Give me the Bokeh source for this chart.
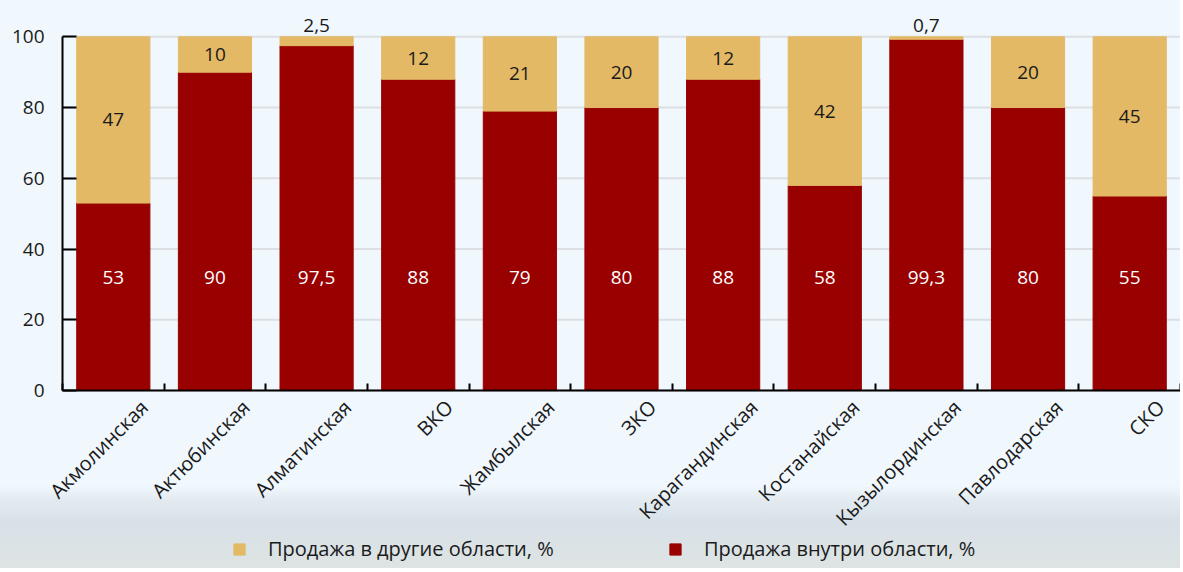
import math
from bokeh.plotting import figure
from bokeh.models import (ColumnDataSource, Range1d, FixedTicker, Legend, LegendItem,
                          LabelSet)
from bokeh.core.properties import value
from bokeh.embed import file_html
from bokeh.resources import INLINE

regions = ["Акмолинская", "Актюбинская", "Алматинская", "ВКО", "Жамбылская", "ЗКО",
           "Карагандинская", "Костанайская", "Кызылординская", "Павлодарская", "СКО"]
inside = [53, 90, 97.5, 88, 79, 80, 88, 58, 99.3, 80, 55]
other = [47, 10, 2.5, 12, 21, 20, 12, 42, 0.7, 20, 45]
inside_labels = ["53", "90", "97,5", "88", "79", "80", "88", "58", "99,3", "80", "55"]
other_labels = ["47", "10", "2,5", "12", "21", "20", "12", "42", "0,7", "20", "45"]
y_ticks = [0, 20, 40, 60, 80, 100]

RED = "#990000"
GOLD = "#e4b966"
FONT = "Open Sans"
TXT = "#1a1a1a"

n = len(regions)
x = list(range(n))
top_total = [a + b for a, b in zip(inside, other)]
small = [b < 5 for b in other]
other_y = [t if s else a + b / 2 for a, b, t, s in zip(inside, other, top_total, small)]
other_off = [5 if s else 0 for s in small]
other_base = ["bottom" if s else "middle" for s in small]

src = ColumnDataSource(dict(
    x=x, inside=inside, other=other, total=top_total,
    ilab=inside_labels, olab=other_labels, cat=regions,
    iy=[32] * n, oy=other_y, ooff=other_off, obase=other_base, zero=[0] * n,
))

# frame covers the whole canvas; axes are pinned at x=-0.5 / y=0
X0 = -0.5 - 62 / ((1180 - 62) / n)
p = figure(width=1180, height=568, output_backend="svg", toolbar_location=None,
           x_range=Range1d(X0, n - 0.5), y_range=Range1d(-50.3, 108),
           min_border_left=0, min_border_right=0, min_border_top=8, min_border_bottom=0)
p.styles = {"background": "linear-gradient(to bottom, #f0f7fd 0%, #f0f7fd 85.5%, #e3ebf1 88%, #d8e1e8 92%, #dee4e3 100%)"}
p.background_fill_alpha = 0
p.border_fill_alpha = 0
p.outline_line_color = None
p.xgrid.grid_line_color = None
p.ygrid.grid_line_color = None

# horizontal gridlines, from the y axis to the right edge
p.segment(x0=-0.5, x1=n - 0.5, y0=y_ticks, y1=y_ticks, line_color="#dcdfe3",
          line_width=2, level="underlay")

r_in = p.vbar(x="x", bottom=0, top="inside", width=0.72, color=RED, source=src)
r_out = p.vbar(x="x", bottom="inside", top="total", width=0.72, color=GOLD, source=src)

p.add_layout(LabelSet(x="x", y="iy", text="ilab", source=src, text_color="white",
                      text_font=value(FONT), text_font_size="19px", text_align="center",
                      text_baseline="middle"))
p.add_layout(LabelSet(x="x", y="oy", text="olab", source=src, text_color=TXT,
                      y_offset="ooff", text_font=value(FONT), text_font_size="19px",
                      text_align="center", text_baseline="obase"))
# category labels, rotated 45°
p.add_layout(LabelSet(x="x", y="zero", text="cat", source=src, text_color=TXT,
                      angle=math.pi / 4, x_offset=31, y_offset=-13,
                      text_font=value(FONT), text_font_size="20px",
                      text_align="right", text_baseline="middle"))

# axes
p.xaxis.fixed_location = 0
p.xaxis.bounds = (-0.5, n - 0.5)
p.xaxis.ticker = FixedTicker(ticks=x, minor_ticks=[i - 0.5 for i in range(n + 1)])
p.xaxis.major_label_text_font_size = "0px"
p.xaxis.major_label_text_color = None
p.xaxis.major_tick_line_color = None
p.xaxis.minor_tick_in = 7
p.xaxis.minor_tick_out = 0
p.xaxis.minor_tick_line_width = 2
p.xaxis.minor_tick_line_color = "black"

p.yaxis.fixed_location = -0.5
p.yaxis.ticker = FixedTicker(ticks=y_ticks)
p.yaxis.bounds = (0, 100)
p.yaxis.major_tick_in = 14
p.yaxis.major_tick_out = 0
p.yaxis.major_tick_line_width = 2
p.yaxis.minor_tick_line_color = None
p.yaxis.major_label_standoff = 18
p.yaxis.major_label_text_font = FONT
p.yaxis.major_label_text_font_size = "19px"
p.yaxis.major_label_text_color = TXT

for ax in (p.xaxis, p.yaxis):
    ax.axis_line_width = 2
    ax.axis_line_color = "black"

def make_legend(label, renderer, loc):
    lg = Legend(items=[LegendItem(label=label, renderers=[renderer])], location=loc,
                orientation="horizontal", padding=0, margin=0, spacing=0,
                border_line_color=None, background_fill_alpha=0,
                glyph_width=14, glyph_height=14, label_height=14, label_standoff=22,
                label_text_font=FONT, label_text_font_size="20px",
                label_text_color=TXT, label_text_baseline="middle")
    p.add_layout(lg, "center")

make_legend("Продажа в другие области, %", r_out, (232, 6))
make_legend("Продажа внутри области, %", r_in, (668, 6))

open("out.html", "w").write(file_html(p, INLINE))
